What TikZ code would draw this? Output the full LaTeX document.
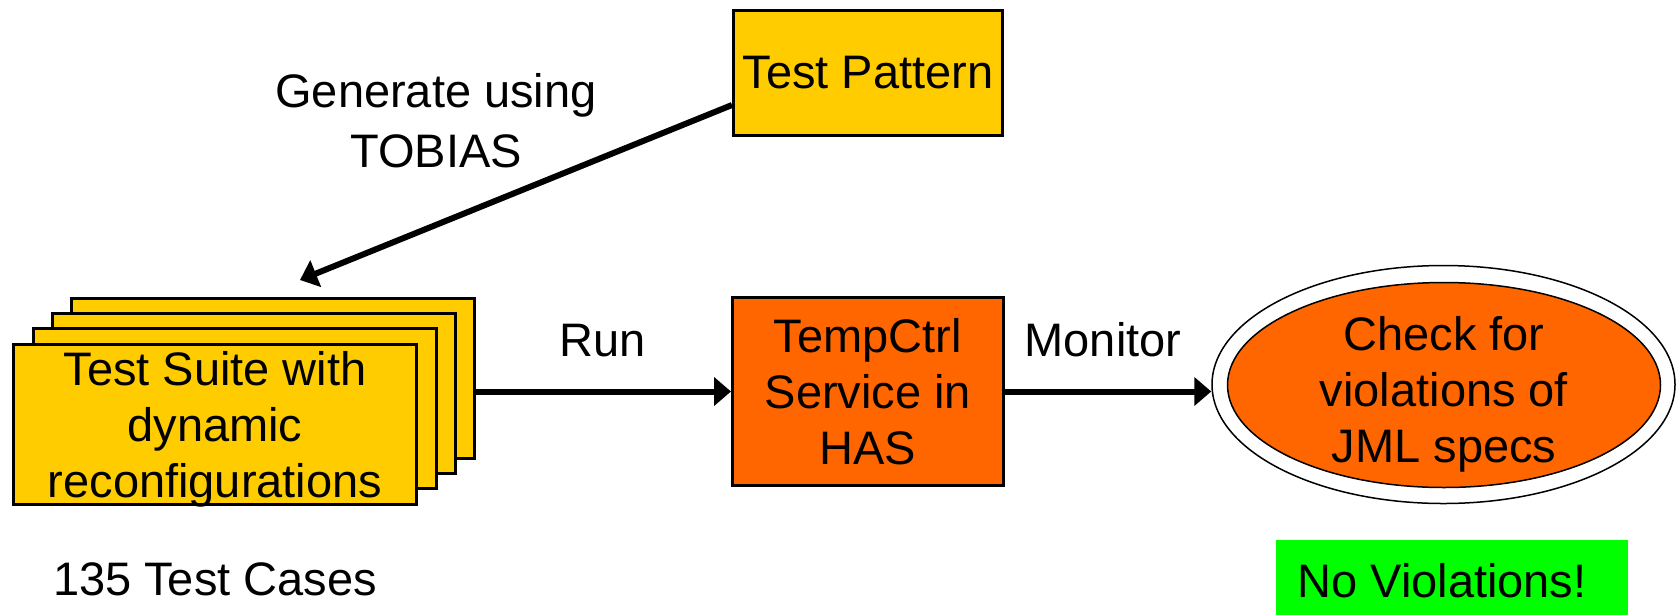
\documentclass[tikz,border=0pt]{standalone}
\usepackage{fontspec}
\setmainfont{Liberation Sans}
\usetikzlibrary{arrows.meta,shapes.geometric}
\definecolor{tyellow}{HTML}{FFCC00}
\definecolor{torange}{HTML}{FF6600}
\definecolor{tgreen}{HTML}{00FF00}
\begin{document}
\begin{tikzpicture}[x=1pt,y=-1pt,
  bigtext/.style={font=\fontsize{47}{56}\selectfont},
  ybox/.style={draw=black,line width=3pt,fill=tyellow,inner sep=0pt,align=center,bigtext},
  stackbox/.style={ybox,minimum width=403pt,minimum height=160pt},
  obox/.style={draw=black,line width=3pt,fill=torange,inner sep=0pt,align=center,bigtext},
  ell/.style={ellipse,draw=black,line width=1.5pt,inner sep=0pt},
  lbl/.style={bigtext,inner sep=0pt,align=center},
  arr/.style={draw=black,line width=6pt,-{Triangle[length=17pt,width=28pt]}}
]
\path[use as bounding box] (0,0) rectangle (1676,614);

% Test Pattern
\node[ybox,minimum width=269pt,minimum height=125pt] (tp) at (868,73) {Test Pattern};

% stacked test suite
\node[stackbox] (s4) at (273,378.5) {};
\node[stackbox] (s3) at (254,393) {};
\node[stackbox] (s2) at (234.5,408.5) {};
\node[stackbox,text depth=0pt] (s1) at (215,424) {Test Suite with\\dynamic\\reconfigurations};

% TempCtrl
\node[obox,minimum width=271pt,minimum height=188pt] (tc) at (868,391.5) {TempCtrl\\Service in\\HAS};

% ellipse
\node[ell,fill=white,minimum width=463pt,minimum height=238pt] (chk) at (1443.5,384.5) {};
\node[ell,fill=torange,minimum width=433pt,minimum height=205pt] (chkin) at (1444,385) {};
\node[lbl,anchor=base] (chktxt) at (1444,462) {Check for\\violations of\\JML specs};

% labels
\node[lbl,font=\fontsize{47}{60}\selectfont,anchor=base] (gen) at (436,167) {Generate using\\TOBIAS};
\node[lbl,anchor=base] (run) at (603,356) {Run};
\node[lbl,anchor=base] (mon) at (1103,356) {Monitor};
\node[lbl,anchor=base] (cases) at (215,595) {135 Test Cases};

% No violations
\node[fill=tgreen,minimum width=352pt,minimum height=76pt,inner sep=0pt] (nv) at (1452,578) {};
\node[lbl,anchor=base] (nvt) at (1442,597) {No Violations!};

% connectors
\coordinate (gend) at (300,280);
\draw[arr] ([yshift=-32pt]tp.west) -- (gend);
\draw[arr] (s4.east |- tc.west) -- (tc.west);
\draw[arr] (tc.east) -- (chk.west |- tc.east);
\end{tikzpicture}
\end{document}
